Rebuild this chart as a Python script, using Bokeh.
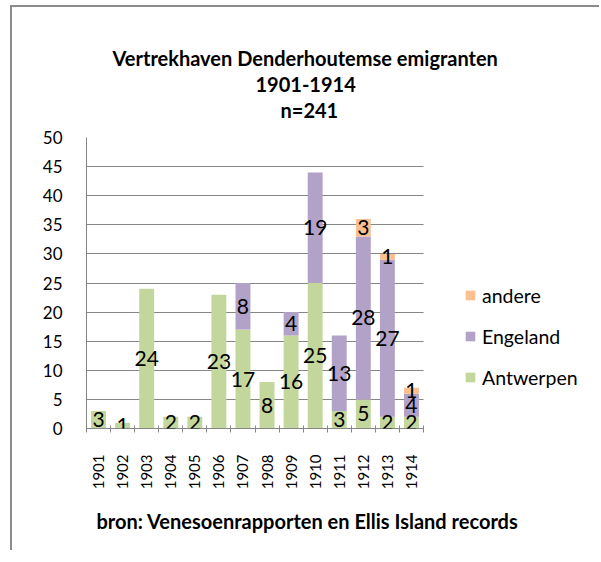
import math
from bokeh.plotting import figure
from bokeh.models import (ColumnDataSource, FixedTicker, Legend, LegendItem, Title, LabelSet)
from bokeh.core.properties import value
from bokeh.embed import file_html
from bokeh.resources import INLINE

# ---- data ----
years = [1901, 1902, 1903, 1904, 1905, 1906, 1907, 1908, 1909, 1910, 1911, 1912, 1913, 1914]
antwerpen = [3, 1, 24, 2, 2, 23, 17, 8, 16, 25, 3, 5, 2, 2]
engeland = [0, 0, 0, 0, 0, 0, 8, 0, 4, 19, 13, 28, 27, 4]
andere = [0, 0, 0, 0, 0, 0, 0, 0, 0, 0, 0, 3, 1, 1]
series = ["Antwerpen", "Engeland", "andere"]
colors = ["#C3D69B", "#B3A2C7", "#FAC090"]
title_lines = ["Vertrekhaven Denderhoutemse emigranten", "1901-1914", "n=241"]
footer_text = "bron: Venesoenrapporten en Ellis Island records"
y_ticks = [0, 5, 10, 15, 20, 25, 30, 35, 40, 45, 50]

FONT = "Lato"
GRID = "#868686"

# layout (pixels)
W, H = 589, 545
BL, BR, BT, BB = 74, 4, 130, 124
PLOT_W = 337  # width of the bar area inside the frame
frame_w = W - BL - BR
x0 = years[0] - 0.5
x_end = x0 + len(years) * frame_w / PLOT_W

src = ColumnDataSource(dict(year=years, Antwerpen=antwerpen, Engeland=engeland, andere=andere))

p = figure(width=W, height=H, x_range=(x0, x_end), y_range=(0, 50),
           output_backend="svg", toolbar_location=None,
           min_border_left=BL, min_border_right=BR, min_border_top=BT, min_border_bottom=BB)
p.margin = (5, 0, 0, 10)
p.styles = {"border-left": "2px solid #8c8c8c", "border-top": "2px solid #8c8c8c"}
p.outline_line_color = None
p.background_fill_color = "white"
p.border_fill_color = "white"

rs = p.vbar_stack(series, x="year", width=0.62, fill_color=colors, line_color=None, source=src)

xb = (years[0] - 0.5, years[-1] + 0.5)

# axes
p.xgrid.grid_line_color = None
p.ygrid.grid_line_color = GRID
p.ygrid.grid_line_width = 1
p.ygrid.cross_bounds = xb
p.yaxis.ticker = FixedTicker(ticks=y_ticks)
p.yaxis.axis_line_color = GRID
p.yaxis.major_tick_line_color = None
p.yaxis.minor_tick_line_color = None
p.yaxis.major_tick_in = 0
p.yaxis.major_tick_out = 0
p.yaxis.major_label_standoff = 24
p.yaxis.major_label_text_font = FONT
p.yaxis.major_label_text_font_size = "17px"
p.yaxis.major_label_text_color = "black"

bounds = [y - 0.5 for y in years] + [years[-1] + 0.5]
p.xaxis.bounds = xb
p.xaxis.ticker = FixedTicker(ticks=years, minor_ticks=bounds)
p.xaxis.axis_line_color = GRID
p.xaxis.major_tick_line_color = None
p.xaxis.major_tick_in = 0
p.xaxis.major_tick_out = 0
p.xaxis.minor_tick_line_color = GRID
p.xaxis.minor_tick_in = 3
p.xaxis.minor_tick_out = 4
p.xaxis.major_label_orientation = math.pi / 2
p.xaxis.major_label_standoff = 22
p.xaxis.major_label_text_font = FONT
p.xaxis.major_label_text_font_size = "15px"
p.xaxis.major_label_text_color = "black"
p.xaxis.major_label_overrides = {y: str(y) for y in years}

# data labels
lx, ly, lt = [], [], []
for i, yr in enumerate(years):
    base = 0
    for vals in (antwerpen, engeland, andere):
        v = vals[i]
        if v:
            lx.append(yr)
            ly.append(base + v / 2)
            lt.append(str(v))
        base += v
lsrc = ColumnDataSource(dict(x=lx, y=ly, t=lt))
p.add_layout(LabelSet(x="x", y="y", text="t", source=lsrc, text_align="center",
                      text_baseline="middle", text_font=value(FONT), text_font_size="21px",
                      text_color="black"))

# legend
legend = Legend(items=[LegendItem(label=series[2], renderers=[rs[2]]),
                       LegendItem(label=series[1], renderers=[rs[1]]),
                       LegendItem(label=series[0], renderers=[rs[0]])],
                location=(378, 39), border_line_color=None, background_fill_alpha=0,
                padding=0, margin=0, spacing=17, label_height=24, glyph_height=12,
                glyph_width=12, label_standoff=6, label_text_font=FONT,
                label_text_font_size="19.5px", label_text_color="black")
p.add_layout(legend)

# titles (added nearest-first): spacer, then the three lines
p.add_layout(Title(text=" ", standoff=0, text_font=FONT, text_font_size="10px"), "above")
for txt, off, so in zip(reversed(title_lines), [194, 169, 26], [3, 5, 6]):
    p.add_layout(Title(text=txt, align="left", offset=off, standoff=so, text_font=FONT,
                       text_font_style="bold", text_font_size="20px", text_color="black"),
                 "above")
p.add_layout(Title(text=footer_text, align="left", offset=10, standoff=28, text_font=FONT,
                   text_font_style="bold", text_font_size="20px", text_color="black"),
             "below")

open("out.html", "w").write(file_html(p, INLINE))
